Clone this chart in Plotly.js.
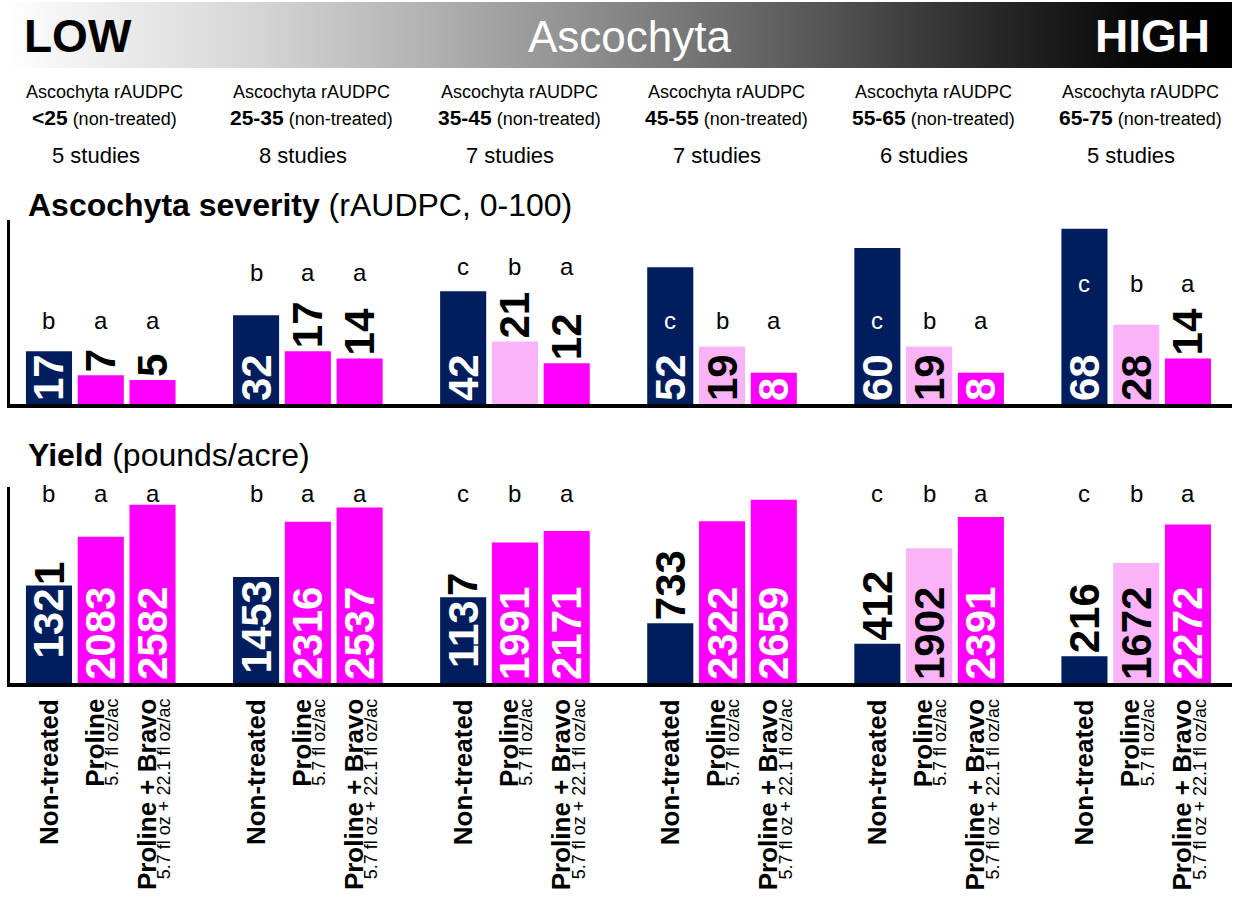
<!DOCTYPE html>
<html><head><meta charset="utf-8">
<script src="https://cdn.plot.ly/plotly-3.0.1.min.js"></script>
<style>html,body{margin:0;padding:0;background:#fff}#chart{width:1240px;height:907px}</style>
</head><body><div id="chart"></div>
<script>
// ---------------- data ----------------
const severityRanges = ['&lt;25', '25-35', '35-45', '45-55', '55-65', '65-75'];
const studyCounts = [5, 8, 7, 7, 6, 5];
const treatments = ['Non-treated', 'Proline', 'Proline + Bravo'];
const treatmentRates = ['', '5.7 fl oz/ac', '5.7 fl oz + 22.1 fl oz/ac'];

const severityNonTreated   = [17, 32, 42, 52, 60, 68];
const severityProline      = [7, 17, 21, 19, 19, 28];
const severityProlineBravo = [5, 14, 12, 8, 8, 14];

const yieldNonTreated   = [1321, 1453, 1137, 733, 412, 216];
const yieldProline      = [2083, 2316, 1991, 2322, 1902, 1672];
const yieldProlineBravo = [2582, 2537, 2171, 2659, 2391, 2272];

const severityLettersNonTreated   = ['b', 'b', 'c', 'c', 'c', 'c'];
const severityLettersProline      = ['a', 'a', 'b', 'b', 'b', 'b'];
const severityLettersProlineBravo = ['a', 'a', 'a', 'a', 'a', 'a'];
const yieldLettersNonTreated   = ['b', 'b', 'c', 'c', 'c', 'c'];
const yieldLettersProline      = ['a', 'a', 'b', 'b', 'b', 'b'];
const yieldLettersProlineBravo = ['a', 'a', 'a', 'a', 'a', 'a'];

// ---------------- style ----------------
const W = 1240, H = 907;
const NAVY = '#001E5E', MAG = '#FF00FF', PINK = '#F9B3F6';
const FONT = 'Liberation Sans, Arial, sans-serif';
const NUMFONT = 'Liberation Sans, Arial, sans-serif';
const NUMSIZE = 42;
const SLOTS = 4, BARW = 0.89;
const X_RANGE = [-0.753, 22.85];
const X_DOMAIN = [10 / W, 1232 / W];
const SEV_BASE = -5, YLD_BASE = -200;
const SEV_RANGE = [SEV_BASE, SEV_BASE + (404 - 220) / 2.4];
const YLD_RANGE = [YLD_BASE, YLD_BASE + (683 - 487) / 0.0641];
const py = p => 1 - p / H, pxX = p => p / W;

const sevColors = [
  [NAVY, NAVY, NAVY, NAVY, NAVY, NAVY],
  [MAG, MAG, PINK, PINK, PINK, PINK],
  [MAG, MAG, MAG, MAG, MAG, MAG]];
const yldColors = [
  [NAVY, NAVY, NAVY, NAVY, NAVY, NAVY],
  [MAG, MAG, MAG, MAG, PINK, PINK],
  [MAG, MAG, MAG, MAG, MAG, MAG]];
const sevTextPos = [
  ['inside', 'inside', 'inside', 'inside', 'inside', 'inside'],
  ['outside', 'outside', 'outside', 'inside', 'inside', 'inside'],
  ['outside', 'outside', 'outside', 'inside', 'inside', 'outside']];
const yldTextPos = [
  ['inside', 'inside', 'inside', 'outside', 'outside', 'outside'],
  ['inside', 'inside', 'inside', 'inside', 'inside', 'inside'],
  ['inside', 'inside', 'inside', 'inside', 'inside', 'inside']];
const sevInsideAnchor = ['start', 'start', 'start'];
const yldInsideAnchor = ['end', 'start', 'start'];
// number of label characters that sit on the bar (the rest overflows above it in black)
const yldSplit = [[3, null, 3, null, null, null], [], []];
const sevLetterLevel = [30, 49.6, 52.1, 30, 30, 45.4];
const yldLetterLevel = [2764, 2764, 2764, 2904, 2764, 2764];

// ---------------- build ----------------
const ann = [];
function add(o) { ann.push(Object.assign({showarrow: false, xref: 'paper', yref: 'paper', xanchor: 'center', yanchor: 'middle'}, o)); }

function barTrace(vals, t, base, colors, pos, anchors, split, xa, ya) {
  const text = vals.map((v, g) => {
    const s = String(v);
    const k = split && split[t] ? split[t][g] : null;
    if (k == null || k >= s.length) return '<b>' + s + '</b>';
    // overflowing part is drawn just above the bar top
    add({xref: xa, yref: ya, x: g * SLOTS + t, y: v, yanchor: 'bottom', textangle: -90,
      text: '<b>' + s.slice(k) + '</b>', font: {family: NUMFONT, size: NUMSIZE, color: '#000'}, borderpad: 0});
    return '<b>' + s.slice(0, k) + '</b>';
  });
  return {
    type: 'bar', xaxis: xa, yaxis: ya, name: treatments[t],
    x: vals.map((_, g) => g * SLOTS + t),
    y: vals.map(v => v - base), base: base, width: BARW,
    marker: {color: colors[t], line: {width: 0}},
    text: text,
    textposition: pos[t], textangle: -90, insidetextanchor: anchors[t],
    constraintext: 'none', cliponaxis: false,
    textfont: {family: NUMFONT, size: NUMSIZE,
      color: vals.map((v, g) => pos[t][g] === 'outside' ? '#000' : (colors[t][g] === PINK ? '#000' : '#fff'))},
    hoverinfo: 'skip'
  };
}
const sevSets = [severityNonTreated, severityProline, severityProlineBravo];
const yldSets = [yieldNonTreated, yieldProline, yieldProlineBravo];
const sevLetters = [severityLettersNonTreated, severityLettersProline, severityLettersProlineBravo];
const yldLetters = [yieldLettersNonTreated, yieldLettersProline, yieldLettersProlineBravo];

const data = [];
for (let t = 0; t < 3; t++) data.push(barTrace(sevSets[t], t, SEV_BASE, sevColors, sevTextPos, sevInsideAnchor, null, 'x', 'y'));
for (let t = 0; t < 3; t++) data.push(barTrace(yldSets[t], t, YLD_BASE, yldColors, yldTextPos, yldInsideAnchor, yldSplit, 'x2', 'y2'));

// banner
add({x: pxX(22), y: py(36), xanchor: 'left', text: '<b>LOW</b>', font: {size: 46, color: '#000', family: FONT}});
add({x: pxX(630), y: py(36), text: 'Ascochyta', font: {size: 44, color: '#fff', family: FONT}});
add({x: pxX(1212), y: py(36), xanchor: 'right', text: '<b>HIGH</b>', font: {size: 46, color: '#fff', family: FONT}});

// group headers
severityRanges.forEach((r, g) => {
  add({xref: 'x', x: g * SLOTS + 1.08, y: py(92), text: 'Ascochyta rAUDPC', font: {size: 18, family: FONT}});
  add({xref: 'x', x: g * SLOTS + 1.08, y: py(117), text: '<span style="font-size:21px"><b>' + r + '</b></span> (non-treated)', font: {size: 18, family: FONT}});
  add({xref: 'x', x: g * SLOTS + 0.9, y: py(155), text: studyCounts[g] + ' studies', font: {size: 22, family: FONT}});
});

// panel titles
add({x: pxX(26), y: py(205), xanchor: 'left', text: '<b>Ascochyta severity</b> (rAUDPC, 0-100)', font: {size: 32, family: FONT}});
add({x: pxX(26), y: py(455), xanchor: 'left', text: '<b>Yield</b> (pounds/acre)', font: {size: 32, family: FONT}});

// significance letters
function letters(sets, lets, levels, xa, ya) {
  for (let t = 0; t < 3; t++) lets[t].forEach((l, g) => {
    const inside = levels[g] < sets[t][g];
    add({xref: xa, yref: ya, x: g * SLOTS + t, y: levels[g], text: l,
      font: {size: 24, family: FONT, color: inside ? '#fff' : '#000'}});
  });
}
letters(sevSets, sevLetters, sevLetterLevel, 'x', 'y');
letters(yldSets, yldLetters, yldLetterLevel, 'x2', 'y2');

// treatment labels
for (let g = 0; g < 6; g++) for (let t = 0; t < 3; t++) {
  const txt = treatmentRates[t]
    ? '<span style="font-size:26px"><b>' + treatments[t] + '</b></span><br><span style="font-size:18px">' + treatmentRates[t] + '</span>'
    : '<span style="font-size:26px"><b>' + treatments[t] + '</b></span>';
  add({xref: 'x2', x: g * SLOTS + t, y: py(697), yanchor: 'top', textangle: -90, align: 'right',
    text: txt, font: {size: 11, family: FONT, color: '#000'}});
}

const gradSvg = '<svg xmlns="http://www.w3.org/2000/svg" width="1224" height="66" viewBox="0 0 1224 66" preserveAspectRatio="none">' +
  '<defs><linearGradient id="g" x1="0" x2="1" y1="0" y2="0">' +
  '<stop offset="0" stop-color="#ffffff"/><stop offset="0.04" stop-color="#f5f5f5"/>' +
  '<stop offset="0.2" stop-color="#d6d6d6"/><stop offset="0.35" stop-color="#b0b0b0"/>' +
  '<stop offset="0.5" stop-color="#868686"/><stop offset="0.65" stop-color="#5a5a5a"/>' +
  '<stop offset="0.8" stop-color="#2a2a2a"/><stop offset="0.92" stop-color="#080808"/>' +
  '<stop offset="1" stop-color="#000000"/></linearGradient></defs>' +
  '<rect width="1224" height="66" fill="url(#g)"/></svg>';

const axBase = {showline: true, linecolor: '#000', showticklabels: false, ticks: '', showgrid: false, zeroline: false, fixedrange: true};
const layout = {
  width: W, height: H, margin: {l: 0, r: 0, t: 0, b: 0},
  paper_bgcolor: '#fff', plot_bgcolor: 'rgba(0,0,0,0)', showlegend: false,
  barmode: 'overlay', font: {family: FONT, color: '#000'},
  xaxis: Object.assign({}, axBase, {domain: X_DOMAIN, range: X_RANGE, anchor: 'y', linewidth: 4}),
  yaxis: Object.assign({}, axBase, {domain: [py(404), py(220)], range: SEV_RANGE, anchor: 'x', linewidth: 3}),
  xaxis2: Object.assign({}, axBase, {domain: X_DOMAIN, range: X_RANGE, anchor: 'y2', linewidth: 4}),
  yaxis2: Object.assign({}, axBase, {domain: [py(683), py(487)], range: YLD_RANGE, anchor: 'x2', linewidth: 3}),
  annotations: ann,
  images: [{source: 'data:image/svg+xml;charset=utf-8,' + encodeURIComponent(gradSvg),
    xref: 'paper', yref: 'paper', x: pxX(8), y: py(2), sizex: 1224 / W, sizey: 66 / H,
    sizing: 'stretch', xanchor: 'left', yanchor: 'top', layer: 'below'}]
};
Plotly.newPlot('chart', data, layout, {displayModeBar: false, staticPlot: true});
</script>
</body></html>
